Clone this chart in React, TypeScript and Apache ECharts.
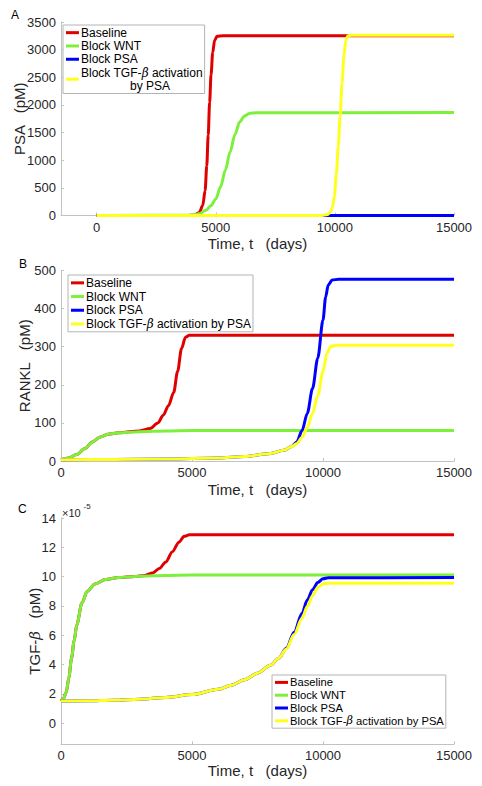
import React, { useEffect, useRef } from 'react';
import * as echarts from 'echarts';

const FONT = '"Liberation Sans", Arial, Helvetica, sans-serif';

const SERIES_NAMES = ['Baseline', 'Block WNT', 'Block PSA', 'Block TGF-β activation by PSA'];
const COLORS = ['#e00000', '#7df03c', '#0000ff', '#ffff1e'];

const X_TICKS = [0, 5000, 10000, 15000];
const PSA_TICKS = [0, 500, 1000, 1500, 2000, 2500, 3000, 3500];
const RANKL_TICKS = [0, 100, 200, 300, 400, 500];
const TGF_TICKS = [0, 2, 4, 6, 8, 10, 12, 14];

// Panel A: PSA (pM)
const psaBaseline: [number, number][] = [
  [0, 0], [3800, 0], [4100, 10], [4300, 50], [4450, 180], [4550, 450], [4620, 900], [4680, 1450],
  [4740, 2050], [4800, 2550], [4870, 2950], [4950, 3170], [5050, 3240], [5300, 3250], [15000, 3250],
];
const psaBlockWnt: [number, number][] = [
  [0, 0], [4000, 5], [4300, 30], [4600, 100], [4800, 180], [5000, 300], [5200, 520], [5400, 820],
  [5600, 1150], [5800, 1460], [6000, 1690], [6200, 1800], [6400, 1845], [6700, 1860], [15000, 1862],
];
const psaBlockPsa: [number, number][] = [[0, 0], [5000, 0], [10000, 0], [15000, 0]];
const psaBlockTgf: [number, number][] = [
  [0, 0], [9400, 0], [9700, 20], [9800, 60], [9900, 150], [9980, 350], [10060, 750], [10140, 1250],
  [10220, 1800], [10300, 2400], [10380, 2900], [10460, 3180], [10550, 3250], [10700, 3262], [15000, 3262],
];

// Panel B: RANKL (pM)
const ranklBaseline: [number, number][] = [
  [0, 3], [300, 8], [600, 17], [900, 32], [1200, 50], [1500, 63], [1800, 70], [2200, 74], [3000, 79],
  [3400, 85], [3700, 100], [3900, 120], [4100, 145], [4300, 180], [4450, 235], [4600, 295], [4750, 325],
  [4900, 330], [15000, 330],
];
const ranklBlockWnt: [number, number][] = [
  [0, 3], [300, 8], [600, 17], [900, 32], [1200, 50], [1500, 63], [1800, 70], [2200, 74], [3000, 77],
  [4000, 79], [5000, 80], [15000, 80],
];
const ranklBlockPsa: [number, number][] = [
  [0, 3], [2000, 4], [4000, 5], [6000, 8], [7000, 12], [8000, 20], [8500, 28], [8800, 38], [9000, 50],
  [9200, 80], [9400, 125], [9600, 190], [9800, 270], [10000, 370], [10100, 430], [10200, 462],
  [10350, 475], [10600, 477], [15000, 477],
];
const ranklBlockTgf: [number, number][] = [
  [0, 3], [2000, 4], [4000, 5], [6000, 8], [7000, 12], [8000, 20], [8500, 28], [8800, 38], [9000, 46],
  [9200, 62], [9400, 88], [9600, 125], [9800, 172], [10000, 235], [10150, 283], [10300, 301],
  [10500, 304], [15000, 304],
];

// Panel C: TGF-beta (pM), in units of 10^-5
const TGF_EXPONENT = -5;
const tgfBaseline: [number, number][] = [
  [0, 1.5], [100, 1.7], [200, 2.1], [300, 3.1], [400, 4.4], [500, 5.6], [600, 6.7], [800, 8.2],
  [1000, 9.0], [1300, 9.5], [1700, 9.8], [2200, 9.93], [2800, 10.0], [3200, 10.08], [3500, 10.25],
  [3750, 10.55], [4000, 11.0], [4250, 11.7], [4500, 12.35], [4700, 12.75], [4900, 12.85], [15000, 12.85],
];
const tgfBlockWnt: [number, number][] = [
  [0, 1.5], [100, 1.7], [200, 2.1], [300, 3.1], [400, 4.4], [500, 5.6], [600, 6.7], [800, 8.2],
  [1000, 9.0], [1300, 9.5], [1700, 9.8], [2200, 9.93], [3000, 10.03], [4000, 10.08], [5000, 10.1],
  [15000, 10.1],
];
const tgfBlockPsa: [number, number][] = [
  [0, 1.5], [1000, 1.52], [2000, 1.56], [3000, 1.63], [4000, 1.75], [5000, 1.95], [6000, 2.3],
  [6500, 2.58], [7000, 2.95], [7500, 3.4], [8000, 3.95], [8300, 4.4], [8600, 5.1], [8900, 6.2],
  [9200, 7.5], [9400, 8.4], [9600, 9.1], [9800, 9.6], [10000, 9.85], [10200, 9.92], [15000, 9.93],
];
const tgfBlockTgf: [number, number][] = [
  [0, 1.5], [1000, 1.52], [2000, 1.56], [3000, 1.63], [4000, 1.75], [5000, 1.95], [6000, 2.3],
  [6500, 2.58], [7000, 2.95], [7500, 3.4], [8000, 3.95], [8300, 4.4], [8600, 5.05], [8900, 6.05],
  [9200, 7.15], [9400, 7.95], [9600, 8.7], [9800, 9.25], [10000, 9.5], [10200, 9.55], [15000, 9.55],
];

const PANELS = [
  [psaBaseline, psaBlockWnt, psaBlockPsa, psaBlockTgf],
  [ranklBaseline, ranklBlockWnt, ranklBlockPsa, ranklBlockTgf],
  [tgfBaseline, tgfBlockWnt, tgfBlockPsa, tgfBlockTgf],
];

const AXIS_GRAY = '#c2c2c2';
const LABEL_COLOR = '#262626';
const plain = (v: number) => String(v);

function xAxisFor(gridIndex: number, min: number, nameGap: number) {
  return {
    gridIndex,
    type: 'value',
    min,
    max: 15000,
    axisLine: { show: true, onZero: false, lineStyle: { color: AXIS_GRAY, width: 1 } },
    axisTick: { show: true, inside: true, length: 3, customValues: X_TICKS, lineStyle: { color: AXIS_GRAY } },
    axisLabel: {
      customValues: X_TICKS, formatter: plain, color: LABEL_COLOR, fontSize: 13, fontWeight: 'normal',
      fontFamily: FONT, margin: 5,
    },
    splitLine: { show: false },
    name: 'Time, t   (days)',
    nameLocation: 'middle',
    nameGap,
    nameMoveOverlap: false,
    nameTextStyle: { fontSize: 15, fontWeight: 'normal', color: LABEL_COLOR, fontFamily: FONT },
  };
}

function yAxisFor(gridIndex: number, min: number, max: number, ticks: number[], name: string, nameGap: number) {
  return {
    gridIndex,
    type: 'value',
    min,
    max,
    axisLine: { show: true, onZero: false, lineStyle: { color: AXIS_GRAY, width: 1 } },
    axisTick: { show: true, inside: true, length: 3, customValues: ticks, lineStyle: { color: AXIS_GRAY } },
    axisLabel: {
      customValues: ticks, formatter: plain, color: LABEL_COLOR, fontSize: 13, fontWeight: 'normal',
      fontFamily: FONT, margin: 5,
    },
    splitLine: { show: false },
    name,
    nameLocation: 'middle',
    nameGap,
    nameMoveOverlap: false,
    nameTextStyle: {
      fontSize: 15,
      fontWeight: 'normal',
      color: LABEL_COLOR,
      fontFamily: FONT,
      rich: {
        n: { fontSize: 15, fontWeight: 'normal', color: LABEL_COLOR, fontFamily: FONT },
        i: {
          fontSize: 15, fontWeight: 'normal', color: LABEL_COLOR, fontFamily: '"DejaVu Serif", serif',
          fontStyle: 'italic',
        },
      },
    },
  };
}

function legendFor(left: number, top: number, fontSize: number, lineHeight: number, twoLine: boolean) {
  return {
    data: SERIES_NAMES,
    orient: 'vertical',
    left,
    top,
    icon: 'rect',
    itemWidth: 13,
    itemHeight: 3,
    itemGap: 0,
    padding: [1, 2, 1, 3],
    borderColor: '#b4b4b4',
    borderWidth: 1,
    backgroundColor: '#ffffff',
    selectedMode: false,
    textStyle: {
      fontSize,
      lineHeight,
      fontWeight: 'normal',
      color: '#000',
      fontFamily: FONT,
      padding: [0, 0, 0, -3],
      rich: {
        i: {
          fontSize, lineHeight, fontWeight: 'normal', color: '#000', fontFamily: '"DejaVu Serif", serif',
          fontStyle: 'italic',
        },
        p: { fontSize, lineHeight, fontWeight: 'normal', color: '#000', fontFamily: FONT, padding: [0, 0, 0, 49] },
      },
    },
    formatter: (name: string) => {
      if (name.indexOf('β') < 0) return name;
      if (twoLine) return 'Block TGF-{i|β} activation\n{p|by PSA}';
      return name.replace('β', '{i|β}');
    },
  };
}

export default function App() {
  const ref = useRef<HTMLDivElement>(null);
  useEffect(() => {
    if (!ref.current) return;
    const chart = echarts.init(ref.current, undefined, { renderer: 'svg' });
    const series: any[] = [];
    PANELS.forEach((panel, gi) => {
      panel.forEach((data, si) => {
        series.push({
          type: 'line',
          name: SERIES_NAMES[si],
          xAxisIndex: gi,
          yAxisIndex: gi,
          data,
          showSymbol: false,
          smooth: 0.3,
          smoothMonotone: 'x',
          lineStyle: { color: COLORS[si], width: 3 },
          itemStyle: { color: COLORS[si] },
          z: 2 + si,
        });
      });
    });
    const letter = { fontSize: 12, fontWeight: 'normal', fill: '#000', fontFamily: FONT };
    chart.setOption({
      animation: false,
      backgroundColor: '#ffffff',
      grid: [
        { left: 61, top: 22, width: 393, height: 193.5, outerBoundsMode: 'none' },
        { left: 61, top: 270.5, width: 393, height: 190.5, outerBoundsMode: 'none' },
        { left: 61, top: 518, width: 393, height: 226.3, outerBoundsMode: 'none' },
      ],
      xAxis: [xAxisFor(0, -1500, 20), xAxisFor(1, 0, 21), xAxisFor(2, 0, 19)],
      yAxis: [
        yAxisFor(0, 0, 3500, PSA_TICKS, 'PSA   (pM)', 34),
        yAxisFor(1, 0, 500, RANKL_TICKS, 'RANKL   (pM)', 29),
        yAxisFor(2, -1.45, 14, TGF_TICKS, '{n|TGF-}{i|β}{n|   (pM)}', 19),
      ],
      legend: [
        legendFor(63, 25, 12, 13.3, true),
        legendFor(68, 275, 12, 13.7, false),
        legendFor(272, 675, 11.2, 12.8, false),
      ],
      graphic: [
        { type: 'text', x: 11, y: 9, style: { text: 'A', ...letter } },
        { type: 'text', x: 19, y: 258, style: { text: 'B', ...letter } },
        { type: 'text', x: 18, y: 503, style: { text: 'C', ...letter } },
        { type: 'text', x: 62, y: 507, style: { text: '×10', fontSize: 11, fontWeight: 'normal', fill: LABEL_COLOR, fontFamily: FONT } },
        { type: 'text', x: 83.5, y: 502, style: { text: String(TGF_EXPONENT), fontSize: 8, fontWeight: 'normal', fill: LABEL_COLOR, fontFamily: FONT } },
      ],
      series,
    });
    return () => chart.dispose();
  }, []);
  return (
    <div
      ref={ref}
      style={{ position: 'absolute', left: 0, top: 0, width: 482, height: 786, background: '#fff' }}
    />
  );
}
